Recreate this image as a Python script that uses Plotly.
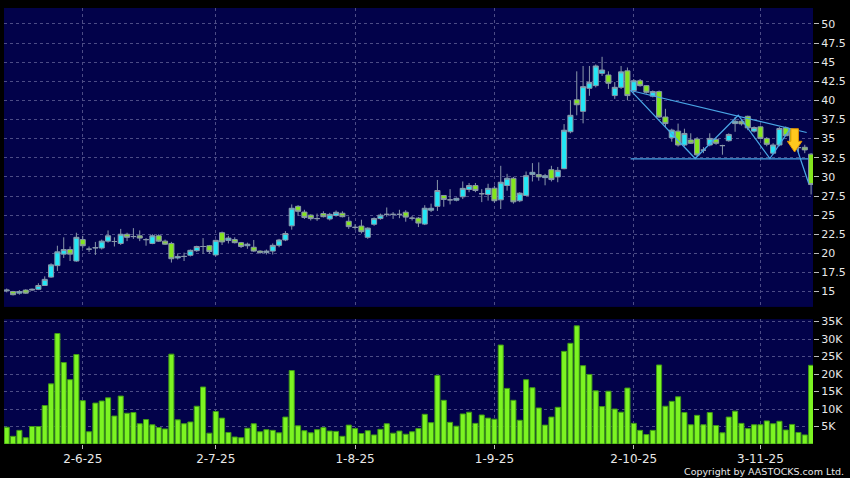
"""
plot.py
-------
Daily candlestick chart with volume panel, AASTOCKS style (dark navy panels).
"""

import plotly.graph_objects as go


# ── Data ────────────────────────────────────────────────────────────────────
OPEN = [
    15.1, 15.0, 14.8, 15.2, 15.2, 15.3, 15.8, 16.9, 18.4, 19.9, 20.5, 19.0, 21.8, 20.55, 20.7, 20.7, 21.6, 21.55, 21.3, 22.5,
    22.2, 22.3, 21.8, 21.3, 22.3, 21.6, 21.3, 19.4, 19.6, 19.75, 20.35, 20.9, 21.0, 19.8, 22.7, 21.7, 21.8, 21.4, 21.0, 20.8,
    20.3, 20.1, 20.3, 21.05, 21.75, 23.6, 26.15, 25.4, 25.0, 24.55, 25.2, 24.5, 24.95, 25.25, 24.2, 23.4, 23.57, 22.1, 23.8, 24.55,
    25.1, 25.1, 25.1, 25.38, 24.6, 24.61, 23.83, 25.64, 26.15, 27.57, 27.0, 26.95, 27.4, 28.35, 28.87, 27.8, 27.7, 28.52, 27.0, 28.87,
    29.82, 26.88, 27.57, 30.3, 30.3, 29.9, 30.94, 30.0, 31.07, 35.9, 40.08, 38.57, 41.58, 41.93, 43.54, 43.32, 40.63, 41.71, 43.86, 41.28,
    42.57, 41.93, 40.55, 41.15, 37.83, 35.12, 35.98, 34.17, 34.82, 34.95, 33.5, 34.17, 34.9, 34.09, 34.73, 36.97, 37.27, 37.92, 35.98, 36.54,
    35.03, 33.1, 34.17, 36.41, 36.11, 33.83, 33.87, 32.97,
]
HIGH = [
    15.4, 15.1, 15.2, 15.3, 15.4, 16.1, 17.0, 18.7, 21.0, 22.1, 20.9, 22.7, 22.3, 20.9, 21.5, 21.8, 23.0, 22.1, 23.2, 22.7,
    23.3, 23.0, 22.0, 22.5, 22.5, 21.8, 21.5, 20.0, 20.1, 20.5, 21.0, 22.0, 21.1, 21.8, 22.85, 22.3, 22.1, 21.5, 21.4, 21.75,
    20.4, 20.5, 21.3, 21.9, 22.9, 26.4, 26.3, 25.7, 25.1, 25.2, 25.5, 25.3, 25.6, 25.5, 24.8, 23.8, 24.4, 23.4, 24.7, 25.2,
    26.0, 25.4, 25.7, 25.64, 24.9, 24.75, 26.3, 26.5, 29.6, 27.6, 28.4, 27.3, 29.4, 29.2, 29.2, 28.4, 29.1, 28.85, 31.45, 30.4,
    30.0, 28.0, 30.7, 31.8, 31.9, 30.4, 31.45, 31.3, 36.9, 40.0, 43.8, 44.5, 44.5, 44.7, 45.7, 43.8, 42.4, 44.5, 44.3, 42.8,
    42.8, 42.0, 41.3, 41.3, 38.9, 36.3, 36.97, 36.3, 35.7, 35.2, 33.9, 35.7, 35.1, 34.2, 35.7, 37.83, 37.5, 38.0, 36.6, 36.7,
    35.2, 34.4, 36.5, 36.6, 36.3, 34.2, 34.2, 33.1,
]
LOW = [
    14.9, 14.5, 14.6, 14.7, 15.1, 15.2, 15.8, 16.8, 17.7, 19.4, 19.0, 18.9, 20.7, 20.2, 19.8, 20.5, 21.4, 20.9, 21.1, 21.6,
    21.9, 21.6, 21.0, 21.2, 21.5, 21.1, 18.8, 19.2, 19.0, 19.6, 20.2, 19.95, 19.95, 19.6, 21.1, 21.3, 21.3, 20.7, 20.6, 20.2,
    19.95, 19.85, 19.85, 20.8, 21.6, 23.1, 24.9, 24.5, 24.3, 24.25, 24.7, 24.3, 24.8, 24.7, 23.2, 23.1, 22.6, 21.9, 23.6, 24.4,
    24.8, 24.5, 24.6, 24.14, 24.3, 23.44, 23.7, 25.4, 25.55, 26.1, 26.4, 26.8, 27.1, 28.0, 28.0, 26.7, 26.9, 26.6, 25.8, 28.2,
    26.5, 26.7, 27.5, 29.4, 29.5, 28.9, 29.4, 29.3, 31.0, 35.7, 38.05, 37.0, 40.6, 41.7, 43.2, 41.5, 40.2, 41.5, 40.0, 41.0,
    41.8, 40.9, 40.4, 37.7, 36.5, 34.6, 33.96, 34.0, 34.3, 32.7, 33.1, 34.0, 34.2, 32.9, 34.6, 35.9, 36.7, 36.1, 35.8, 34.9,
    34.0, 32.9, 34.0, 35.3, 34.2, 33.2, 33.1, 27.7,
]
CLOSE = [
    15.2, 14.6, 15.0, 14.8, 15.3, 15.8, 16.6, 18.5, 20.2, 20.5, 19.9, 22.1, 21.0, 20.55, 20.75, 21.6, 22.3, 21.55, 22.5, 22.1,
    22.2, 22.0, 21.8, 22.3, 21.6, 21.2, 19.3, 19.6, 19.6, 20.4, 20.9, 20.9, 20.25, 21.7, 21.5, 22.0, 21.4, 20.9, 21.2, 20.3,
    20.1, 20.3, 21.05, 21.75, 22.6, 25.9, 25.5, 24.7, 24.55, 24.55, 24.8, 25.1, 25.37, 24.8, 23.5, 23.4, 22.84, 23.3, 24.55, 25.0,
    25.1, 25.1, 25.1, 24.74, 24.6, 23.96, 25.9, 25.9, 28.22, 27.05, 27.0, 27.2, 28.5, 28.87, 28.22, 27.8, 28.5, 26.88, 29.3, 29.82,
    26.74, 27.87, 30.16, 30.6, 30.0, 30.16, 29.65, 30.85, 36.1, 38.05, 39.43, 41.8, 42.36, 44.5, 43.97, 42.24, 41.71, 43.73, 40.63, 42.57,
    41.93, 41.06, 41.15, 37.83, 36.97, 36.11, 34.17, 35.68, 34.39, 32.88, 33.5, 35.03, 34.39, 34.09, 35.55, 37.27, 36.93, 36.41, 36.45, 35.03,
    34.26, 34.17, 36.33, 35.38, 34.39, 33.83, 33.53, 29.0,
]
# volume in thousands of shares
VOLUME_K = [
    4.8, 2.2, 3.9, 1.8, 5.0, 5.0, 11.0, 17.2, 31.6, 23.3, 18.4, 25.6, 12.4, 3.5, 11.7, 12.3, 13.2, 8.0, 13.7, 8.8,
    9.0, 5.8, 7.0, 5.5, 4.7, 4.3, 25.7, 6.9, 5.8, 6.3, 10.8, 16.3, 3.1, 9.3, 7.4, 3.3, 2.0, 1.8, 4.5, 5.8,
    3.5, 4.1, 3.9, 3.2, 7.7, 21.0, 5.2, 3.8, 3.2, 4.1, 4.7, 3.7, 3.6, 2.2, 5.4, 4.4, 3.0, 3.8, 2.6, 4.2,
    5.8, 3.1, 3.7, 2.8, 3.5, 4.4, 8.5, 6.1, 19.6, 12.5, 6.2, 5.1, 8.6, 9.1, 5.9, 8.3, 7.4, 7.1, 28.3, 15.9,
    12.5, 6.8, 18.4, 16.1, 10.3, 5.4, 7.7, 10.5, 26.5, 28.8, 33.8, 22.4, 19.9, 15.2, 10.7, 15.1, 10.0, 9.1, 16.0, 5.9,
    3.9, 2.7, 3.9, 22.6, 10.8, 12.2, 13.5, 9.0, 5.5, 8.2, 5.5, 9.0, 5.3, 3.2, 7.7, 9.4, 5.9, 4.4, 5.5, 5.5,
    6.6, 5.8, 6.5, 4.0, 5.6, 3.3, 2.6, 22.5,
]

# first trading day of each month (bar index) and its label
TICK_IDX = [12, 33, 55, 77, 99, 119]
TICK_LABELS = ["2-6-25", "2-7-25", "1-8-25", "1-9-25", "2-10-25", "3-11-25"]

PRICE_TICKS = [15, 17.5, 20, 22.5, 25, 27.5, 30, 32.5, 35, 37.5, 40, 42.5, 45, 47.5, 50]
VOL_TICKS_K = [5, 10, 15, 20, 25, 30, 35]

# hand-drawn trendlines (bar index, price)
TREND_UPPER_X = [98.5, 126.3]
TREND_UPPER_Y = [41.3, 35.8]
TREND_ZIG_X = [98.5, 108.7, 115.5, 120.5, 123.7, 126.6]
TREND_ZIG_Y = [41.3, 32.4, 38.06, 32.4, 36.3, 29.2]
SUPPORT_X = [98.5, 126.6]
SUPPORT_Y = [32.35, 32.35]

# sell signal arrow: bar index and price of the tip
SIGNAL_IDX = 124.4
SIGNAL_PRICE = 33.25

assert len(OPEN) == len(HIGH) == len(LOW) == len(CLOSE) == len(VOLUME_K)

# ── Colours ─────────────────────────────────────────────────────────────────
NAVY = "#02024a"
GRID = "#4c4c86"
UP = "#22e6f6"
DOWN = "#84e61e"
OUTLINE = "#8a98aa"
VOL_FILL = "#7cf422"
VOL_EDGE = "#3f9a16"
TREND = "#4aa6e6"
TEXT = "#e8e8e8"

x = list(range(len(CLOSE)))

fig = go.Figure()

fig.add_trace(go.Candlestick(
    x=x, open=OPEN, high=HIGH, low=LOW, close=CLOSE,
    increasing=dict(fillcolor=UP, line=dict(color=OUTLINE, width=1)),
    decreasing=dict(fillcolor=DOWN, line=dict(color=OUTLINE, width=1)),
    xaxis="x", yaxis="y", showlegend=False, hoverinfo="skip",
))

for xs, ys in [(TREND_UPPER_X, TREND_UPPER_Y), (TREND_ZIG_X, TREND_ZIG_Y), (SUPPORT_X, SUPPORT_Y)]:
    fig.add_trace(go.Scatter(
        x=xs, y=ys, mode="lines", line=dict(color=TREND, width=1.2),
        xaxis="x", yaxis="y", showlegend=False, hoverinfo="skip",
    ))

fig.add_trace(go.Bar(
    x=x, y=VOLUME_K,
    marker=dict(color=VOL_FILL, line=dict(color=VOL_EDGE, width=1)),
    xaxis="x2", yaxis="y2", showlegend=False, hoverinfo="skip",
))

# down arrow (sell signal)
ax, ay = SIGNAL_IDX, SIGNAL_PRICE
arrow_path = (
    f"M {ax - 0.6},{ay + 3.05} L {ax + 0.6},{ay + 3.05} L {ax + 0.6},{ay + 1.4} "
    f"L {ax + 1.15},{ay + 1.4} L {ax},{ay} L {ax - 1.15},{ay + 1.4} L {ax - 0.6},{ay + 1.4} Z"
)
fig.add_shape(type="path", path=arrow_path, xref="x", yref="y",
              fillcolor="#ffc81e", line=dict(color="#e09000", width=1), layer="above")

# ── Layout ──────────────────────────────────────────────────────────────────
XRANGE = [-0.43, 127.3]
axis_font = dict(family="DejaVu Sans", size=11, color=TEXT)

fig.update_layout(
    width=850, height=478,
    paper_bgcolor="#000000",
    plot_bgcolor=NAVY,
    margin=dict(l=4, r=37, t=5, b=34),
    bargap=0.2,
    boxgap=0.2,
    boxgroupgap=0,
    xaxis=dict(
        domain=[0, 1], anchor="y", range=XRANGE, matches="x2",
        tickvals=TICK_IDX, showticklabels=False, ticks="",
        showgrid=True, gridcolor=GRID, griddash="3px,3px", gridwidth=1,
        zeroline=False, showline=False, rangeslider=dict(visible=False),
    ),
    yaxis=dict(
        domain=[0.3144, 1], anchor="x", side="right", range=[13.0, 52.08],
        tickvals=PRICE_TICKS, ticktext=[f"{v:g}" for v in PRICE_TICKS],
        ticks="outside", ticklen=5, tickcolor="#bbbbbb",
        showgrid=True, gridcolor=GRID, griddash="3px,3px", gridwidth=1,
        zeroline=False, tickfont=axis_font,
    ),
    xaxis2=dict(
        domain=[0, 1], anchor="y2", range=XRANGE,
        tickvals=TICK_IDX, ticktext=TICK_LABELS,
        ticks="outside", ticklen=4, tickcolor="#bbbbbb",
        showgrid=True, gridcolor=GRID, griddash="3px,3px", gridwidth=1,
        zeroline=False, showline=False,
        tickfont=dict(family="DejaVu Sans", size=12, color=TEXT),
    ),
    yaxis2=dict(
        domain=[0, 0.2863], anchor="x2", side="right", range=[0, 35.7],
        tickvals=VOL_TICKS_K, ticktext=[f"{v}K" for v in VOL_TICKS_K],
        ticks="outside", ticklen=5, tickcolor="#bbbbbb",
        showgrid=True, gridcolor=GRID, griddash="3px,3px", gridwidth=1,
        zeroline=False, tickfont=axis_font,
    ),
    annotations=[dict(
        text="Copyright by AASTOCKS.com Ltd.",
        xref="paper", yref="paper", x=1.0408, y=-0.0625,
        xanchor="right", yanchor="middle", showarrow=False,
        font=dict(family="DejaVu Sans", size=9.5, color=TEXT),
    )],
)

# page body has a default 8px margin; drop it so the figure sits at the corner
fig.write_html(
    "out.html",
    config={"displayModeBar": False},
    post_script="document.body.style.margin='0';",
)
